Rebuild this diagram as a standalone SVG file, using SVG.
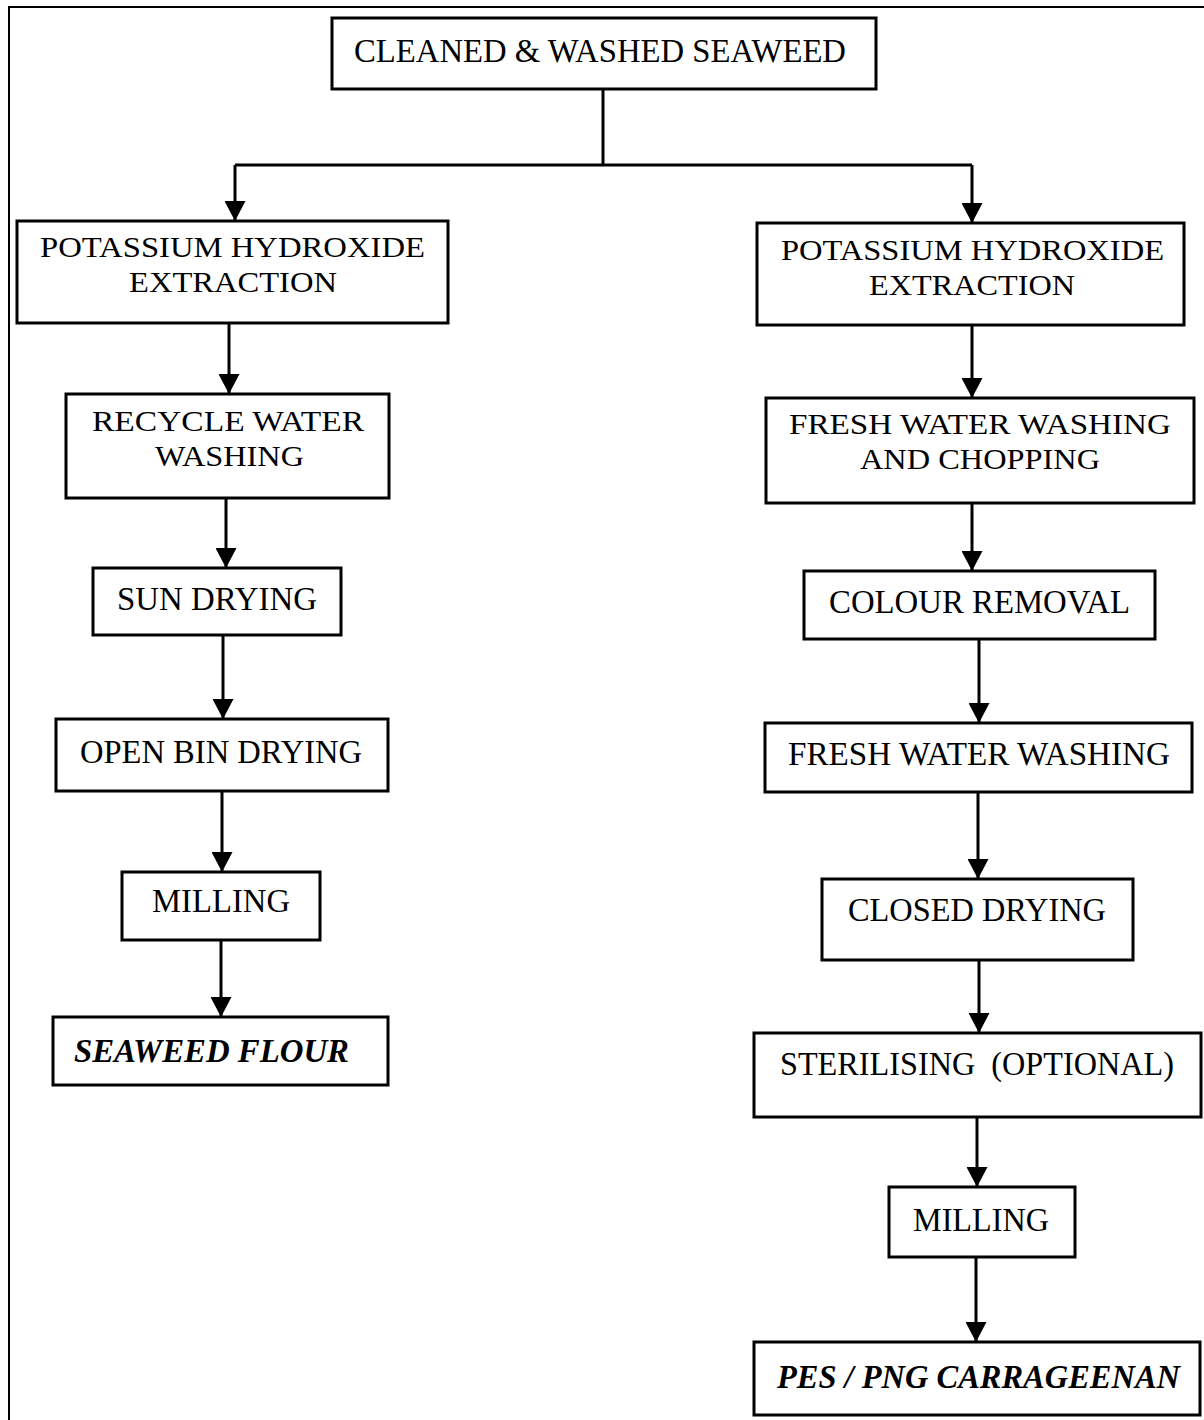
<svg xmlns="http://www.w3.org/2000/svg" width="1204" height="1420" viewBox="0 0 1204 1420">
<style>
.box{fill:#fff;stroke:#000;stroke-width:3}
.t{font-family:"Liberation Serif","Times New Roman",serif;font-size:33px;fill:#000}
.t2{font-size:30px}
.bi{font-weight:bold;font-style:italic}
.c{fill:none;stroke:#000;stroke-width:3}
.frame{fill:none;stroke:#000;stroke-width:2}
</style>
<defs>
<marker id="ah" viewBox="0 0 20 21" refX="20" refY="10.5" markerWidth="20" markerHeight="21" markerUnits="userSpaceOnUse" orient="auto">
<path d="M0,0 L20,10.5 L0,21 z" fill="#000"/>
</marker>
</defs>
<rect width="1204" height="1420" fill="#fff"/>
<path class="frame" d="M9,1420 L9,7 L1204,7"/>
<g id="connectors">
<path class="c" d="M603,89 L603,165"/>
<path class="c" d="M235,165 L972,165"/>
<path class="c" d="M235,165 L235,221" marker-end="url(#ah)"/>
<path class="c" d="M972,165 L972,223" marker-end="url(#ah)"/>
<path class="c" d="M229,323 L229,394" marker-end="url(#ah)"/>
<path class="c" d="M226,498 L226,568" marker-end="url(#ah)"/>
<path class="c" d="M223,635 L223,719" marker-end="url(#ah)"/>
<path class="c" d="M222,791 L222,872" marker-end="url(#ah)"/>
<path class="c" d="M221,940 L221,1017" marker-end="url(#ah)"/>
<path class="c" d="M972,325 L972,398" marker-end="url(#ah)"/>
<path class="c" d="M972,503 L972,571" marker-end="url(#ah)"/>
<path class="c" d="M979,639 L979,723" marker-end="url(#ah)"/>
<path class="c" d="M978,792 L978,879" marker-end="url(#ah)"/>
<path class="c" d="M979,960 L979,1033" marker-end="url(#ah)"/>
<path class="c" d="M977,1117 L977,1187" marker-end="url(#ah)"/>
<path class="c" d="M976,1257 L976,1342" marker-end="url(#ah)"/>
</g>
<g id="n-cleaned">
<rect class="box" x="332" y="18" width="544" height="71"/>
<text class="t" x="354" y="62" textLength="492" lengthAdjust="spacingAndGlyphs">CLEANED &amp; WASHED SEAWEED</text>
</g>
<g id="n-koh-left">
<rect class="box" x="17" y="221" width="431" height="102"/>
<text class="t t2" x="40" y="257" textLength="385" lengthAdjust="spacingAndGlyphs">POTASSIUM HYDROXIDE</text>
<text class="t t2" x="129" y="292" textLength="208" lengthAdjust="spacingAndGlyphs">EXTRACTION</text>
</g>
<g id="n-recycle">
<rect class="box" x="66" y="394" width="323" height="104"/>
<text class="t t2" x="92" y="431" textLength="272" lengthAdjust="spacingAndGlyphs">RECYCLE WATER</text>
<text class="t t2" x="155" y="466" textLength="149" lengthAdjust="spacingAndGlyphs">WASHING</text>
</g>
<g id="n-sun">
<rect class="box" x="93" y="568" width="248" height="67"/>
<text class="t" x="117" y="610" textLength="200" lengthAdjust="spacingAndGlyphs">SUN DRYING</text>
</g>
<g id="n-openbin">
<rect class="box" x="56" y="719" width="332" height="72"/>
<text class="t" x="80" y="763" textLength="282" lengthAdjust="spacingAndGlyphs">OPEN BIN DRYING</text>
</g>
<g id="n-milling-left">
<rect class="box" x="122" y="872" width="198" height="68"/>
<text class="t" x="152" y="912" textLength="138" lengthAdjust="spacingAndGlyphs">MILLING</text>
</g>
<g id="n-flour">
<rect class="box" x="53" y="1017" width="335" height="68"/>
<text class="t bi" x="74" y="1062" textLength="275" lengthAdjust="spacingAndGlyphs">SEAWEED FLOUR</text>
</g>
<g id="n-koh-right">
<rect class="box" x="757" y="223" width="427" height="102"/>
<text class="t t2" x="781" y="260" textLength="383" lengthAdjust="spacingAndGlyphs">POTASSIUM HYDROXIDE</text>
<text class="t t2" x="869" y="295" textLength="206" lengthAdjust="spacingAndGlyphs">EXTRACTION</text>
</g>
<g id="n-fresh-chop">
<rect class="box" x="766" y="398" width="428" height="105"/>
<text class="t t2" x="789" y="434" textLength="382" lengthAdjust="spacingAndGlyphs">FRESH WATER WASHING</text>
<text class="t t2" x="860" y="469" textLength="240" lengthAdjust="spacingAndGlyphs">AND CHOPPING</text>
</g>
<g id="n-colour">
<rect class="box" x="804" y="571" width="351" height="68"/>
<text class="t" x="829" y="613" textLength="301" lengthAdjust="spacingAndGlyphs">COLOUR REMOVAL</text>
</g>
<g id="n-fresh">
<rect class="box" x="765" y="723" width="427" height="69"/>
<text class="t" x="788" y="765" textLength="382" lengthAdjust="spacingAndGlyphs">FRESH WATER WASHING</text>
</g>
<g id="n-closed">
<rect class="box" x="822" y="879" width="311" height="81"/>
<text class="t" x="848" y="921" textLength="258" lengthAdjust="spacingAndGlyphs">CLOSED DRYING</text>
</g>
<g id="n-steril">
<rect class="box" x="754" y="1033" width="447" height="84"/>
<text class="t" x="780" y="1075" textLength="394" lengthAdjust="spacingAndGlyphs" xml:space="preserve">STERILISING  (OPTIONAL)</text>
</g>
<g id="n-milling-right">
<rect class="box" x="889" y="1187" width="186" height="70"/>
<text class="t" x="913" y="1231" textLength="136" lengthAdjust="spacingAndGlyphs">MILLING</text>
</g>
<g id="n-carrageenan">
<rect class="box" x="754" y="1342" width="446" height="73"/>
<text class="t bi" x="777" y="1388" textLength="403" lengthAdjust="spacingAndGlyphs">PES / PNG CARRAGEENAN</text>
</g>
</svg>
